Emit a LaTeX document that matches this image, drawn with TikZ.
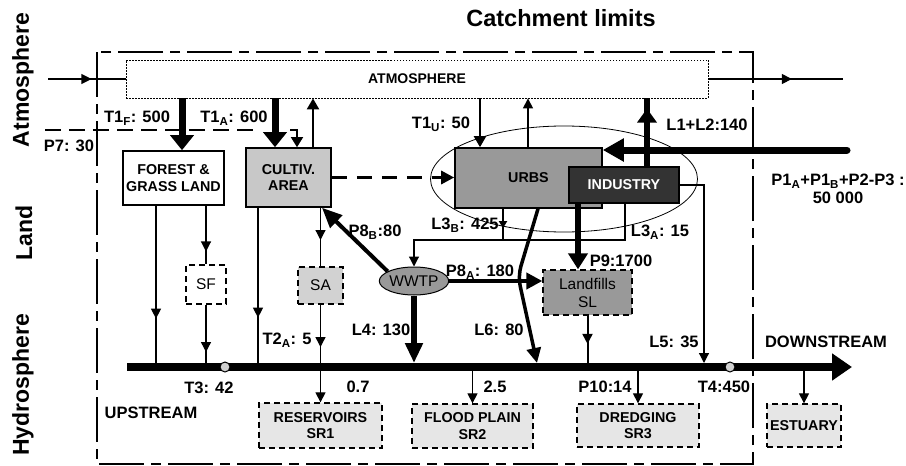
\documentclass[tikz,border=0pt]{standalone}
\usepackage{fontspec}
\setmainfont{Liberation Sans}
\usetikzlibrary{arrows.meta,decorations.markings,shapes.geometric}
\definecolor{midgray}{HTML}{999999}
\definecolor{cultgray}{HTML}{C8C8C8}
\definecolor{sagray}{HTML}{D2D2D2}
\definecolor{srgray}{HTML}{E6E6E6}
\definecolor{indgray}{HTML}{333333}
\definecolor{dotgray}{HTML}{D0D0D0}
\begin{document}
\begin{tikzpicture}[x=1pt,y=-1pt,
  lab/.style={font=\bfseries\fontsize{16.5}{18.5}\selectfont, inner sep=0pt, align=center},
  region/.style={font=\bfseries\fontsize{23}{25}\selectfont, rotate=90, inner sep=0pt},
  bx/.style={inner sep=0pt, align=center, font=\bfseries\fontsize{14.3}{16.5}\selectfont},
  solidbox/.style={bx, draw, line width=1.6pt},
  dashbox/.style={bx, draw, line width=1.3pt, dash pattern=on 6pt off 4pt},
  plain/.style={font=\fontsize{15.5}{18}\selectfont},
  thinarr/.style={line width=1.2pt, -{Triangle[length=10pt,width=10pt]}},
  thinln/.style={line width=1.2pt},
  midarrow/.style={postaction={decorate}, decoration={markings, mark=at position #1 with {\arrow{Triangle[length=10pt,width=10pt]}}}},
  bigmid/.style={postaction={decorate}, decoration={markings, mark=at position #1 with {\arrow{Triangle[length=14pt,width=19pt]}}}},
  smallmid/.style={postaction={decorate}, decoration={markings, mark=at position #1 with {\arrow{Triangle[length=7pt,width=8pt]}}}},
]
\useasboundingbox (0,0) rectangle (906,466);

% ---------- coordinates ----------
\coordinate (inL) at (48,79);
\coordinate (outR) at (843,79);
\coordinate (rivL) at (127,367);
\coordinate (rivR) at (852,367);
\coordinate (rivT) at (0,363);
\coordinate (xF) at (182,0);
\coordinate (xA) at (275,0);
\coordinate (bend) at (290,130);
\coordinate (xAs) at (297,0);
\coordinate (xAu) at (313,0);
\coordinate (xFl) at (156,0);
\coordinate (xCl) at (258,0);
\coordinate (xU) at (480,0);
\coordinate (xUu) at (528,0);
\coordinate (xL) at (647,0);
\coordinate (p1s) at (847,150);
\coordinate (jR) at (625,240);
\coordinate (jB) at (503,240);
\coordinate (jL) at (414,240);
\coordinate (xP9) at (578,0);
\coordinate (xL6) at (538,0);
\coordinate (l6m) at (518,276);
\coordinate (l6e) at (537,363);
\coordinate (xL5) at (704,0);
\coordinate (xP8B) at (322,0);
\coordinate (hdL) at (45,130);
\coordinate (hdR) at (255,130);
\coordinate (cbA) at (97,52);
\coordinate (cbB) at (753,464);

% ---------- catchment limits ----------
\draw[line width=2pt, dash pattern=on 45pt off 7pt on 10pt off 7pt] (cbA) rectangle (cbB);
\draw[line width=2pt, dash pattern=on 16pt off 8pt] (hdL) -- (hdR);

% ---------- nodes ----------
\node[draw, ellipse, minimum width=267pt, minimum height=106pt, line width=0.8pt] (ell) at (564,179) {};
\node[draw, line width=0.8pt, dash pattern=on 1.5pt off 1.5pt, fill=white, minimum width=582pt, minimum height=38pt, inner sep=0pt, font=\bfseries\fontsize{14}{16}\selectfont] (atm) at (417,79) {ATMOSPHERE};
\node[solidbox, fill=white, minimum width=101pt, minimum height=54pt] (forest) at (173.5,178) {FOREST \&\\GRASS LAND};
\node[solidbox, fill=cultgray, minimum width=85pt, minimum height=59pt] (cult) at (288.5,177.5) {CULTIV.\\AREA};
\node[dashbox, plain, fill=white, minimum width=40pt, minimum height=39pt] (sf) at (206,284.5) {SF};
\node[dashbox, plain, fill=sagray, minimum width=45pt, minimum height=37pt] (sa) at (320.5,285.5) {SA};
\node[solidbox, fill=midgray, minimum width=147pt, minimum height=60pt] (urbs) at (528.5,178) {URBS};
\node[solidbox, fill=indgray, text=white, minimum width=110pt, minimum height=36pt] (ind) at (624,185) {INDUSTRY};
\node[draw, ellipse, fill=midgray, line width=1pt, minimum width=67pt, minimum height=28pt, inner sep=0pt, plain] (wwtp) at (414,281) {WWTP};
\node[dashbox, plain, fill=midgray, minimum width=89pt, minimum height=45pt] (land) at (587.5,292.5) {Landfills\\SL};
\node[dashbox, fill=srgray, minimum width=123pt, minimum height=45pt] (sr1) at (320.5,425.5) {RESERVOIRS\\SR1};
\node[dashbox, fill=srgray, minimum width=121pt, minimum height=44pt] (sr2) at (472.5,426) {FLOOD PLAIN\\SR2};
\node[dashbox, fill=srgray, minimum width=122pt, minimum height=43pt] (sr3) at (638,425.5) {DREDGING\\SR3};
\node[dashbox, fill=srgray, minimum width=74pt, minimum height=43pt] (est) at (804,425.5) {ESTUARY};

% ---------- atmosphere in/out ----------
\draw[line width=1.1pt, midarrow=0.56] (inL) -- (atm.west);
\draw[line width=1.1pt, midarrow=0.62] (atm.east) -- (outR);

% ---------- deposition ----------
\draw[line width=7pt, -{Triangle[length=15pt,width=23pt]}] (atm.south -| xF) -- (forest.north -| xF);
\draw[line width=7pt, -{Triangle[length=15pt,width=23pt]}] (atm.south -| xA) -- (cult.north -| xA);
\draw[line width=1.5pt, -{Triangle[length=10pt,width=12pt]}] (bend) -- (bend -| xAs) -- (cult.north -| xAs);
\draw[line width=2.2pt, -{Triangle[length=11pt,width=12pt]}] (cult.north -| xAu) -- (atm.south -| xAu);
\draw[line width=2.2pt, -{Triangle[length=11pt,width=12pt]}] (atm.south -| xU) -- (urbs.north -| xU);
\draw[thinarr] (urbs.north -| xUu) -- (atm.south -| xUu);

% ---------- land to river ----------
\draw[thinln, midarrow=0.70] (forest.south -| xFl) -- (rivL -| xFl);
\draw[thinln, midarrow=0.78] (forest.south -| sf.north) -- (sf.north);
\draw[thinln, midarrow=0.76] (sf.south) -- (rivL -| sf.south);
\draw[thinln, midarrow=0.69] (cult.south -| xCl) -- (rivL -| xCl);
\draw[thinln, midarrow=0.55] (cult.south -| sa.north) -- (sa.north);
\draw[thinln, midarrow=0.68] (sa.south) -- (rivL -| sa.south);
\draw[thinarr] (rivL -| sa.south) -- (sr1.north -| sa.south);
\draw[thinarr] (rivL -| sr2.north) -- (sr2.north);
\draw[thinarr] (rivL -| sr3.north) -- (sr3.north);
\draw[thinarr] (rivL -| est.north) -- (est.north);
\draw[line width=2pt, midarrow=0.55] (land.south) -- (rivL -| land.south);

% ---------- urban flows ----------
\draw[line width=3pt, dash pattern=on 15pt off 10pt, -{Triangle[length=13pt,width=13pt]}] (cult.east) -- (urbs.west |- cult.east);
\draw[line width=7pt, line cap=round, -{Triangle[length=21pt,width=22pt]}] (p1s) -- (urbs.east |- p1s);
\draw[line width=6pt, bigmid=0.85] (ind.north -| xL) -- (atm.south -| xL);
\draw[thinarr] (ind.south -| jR) -- (jR) -- (jL) -- (wwtp.north);
\draw[line width=2.5pt, smallmid=0.62] (urbs.south -| jB) -- (jB);
\draw[line width=6.5pt, -{Triangle[length=16pt,width=19pt]}] (ind.south -| xP9) -- (land.north -| xP9);
\draw[thinarr] (ind.east) -- (ind.east -| xL5) -- (rivT -| xL5);
\draw[line width=4pt, -{Triangle[length=20pt,width=17pt]}] (wwtp.160) -- (cult.south -| xP8B);
\draw[line width=4pt, -{Triangle[length=16pt,width=16pt]}] (wwtp.east) -- (land.west |- wwtp.east);
\draw[line width=5.5pt, -{Triangle[length=20pt,width=17pt]}] (wwtp.south) -- (wwtp.south |- rivT);
\draw[line width=3.5pt, rounded corners=10pt, -{Triangle[length=15pt,width=14pt]}] (urbs.south -| xL6) -- (l6m) -- (l6e);

% ---------- river ----------
\draw[line width=7.5pt, -{Triangle[length=20pt,width=26pt]}] (rivL) -- (rivR);
\node[circle, draw, line width=1pt, fill=dotgray, minimum size=10pt, inner sep=0pt] (t3) at (225,367) {};
\node[circle, draw, line width=1pt, fill=dotgray, minimum size=10pt, inner sep=0pt] (t4) at (730,367) {};

% ---------- labels ----------
\node[font=\bfseries\fontsize{23.5}{26}\selectfont, inner sep=0pt] (title) at (561,18) {Catchment limits};
\node[region] (rA) at (23,80) {Atmosphere};
\node[region] (rL) at (24,233) {Land};
\node[region] (rH) at (23,385) {Hydrosphere};
\node[lab] (n1) at (137,118) {T1\textsubscript{F}: 500};
\node[lab] (n2) at (234,118) {T1\textsubscript{A}: 600};
\node[lab] (n3) at (69,146) {P7: 30};
\node[lab] (n4) at (441,124) {T1\textsubscript{U}: 50};
\node[lab] (n5) at (707,125) {L1+L2:140};
\node[lab] (n6) at (838,189) {P1\textsubscript{A}+P1\textsubscript{B}+P2-P3 :\\50 000};
\node[lab] (n7) at (465,225) {L3\textsubscript{B}: 425};
\node[lab] (n8) at (660,232) {L3\textsubscript{A}: 15};
\node[lab] (n9) at (375,232) {P8\textsubscript{B}:80};
\node[lab] (n10) at (480,272) {P8\textsubscript{A}: 180};
\node[lab] (n11) at (621,261) {P9:1700};
\node[lab] (n12) at (381,330) {L4: 130};
\node[lab] (n13) at (499,330) {L6: 80};
\node[lab] (n14) at (287,340) {T2\textsubscript{A}: 5};
\node[lab] (n15) at (674,342) {L5: 35};
\node[lab] (n16) at (826,342) {DOWNSTREAM};
\node[lab] (n17) at (209,388) {T3: 42};
\node[lab] (n18) at (358,387) {0.7};
\node[lab] (n19) at (495,387) {2.5};
\node[lab] (n20) at (605,387) {P10:14};
\node[lab] (n21) at (724,387) {T4:450};
\node[lab] (n22) at (151,413) {UPSTREAM};
\end{tikzpicture}
\end{document}
